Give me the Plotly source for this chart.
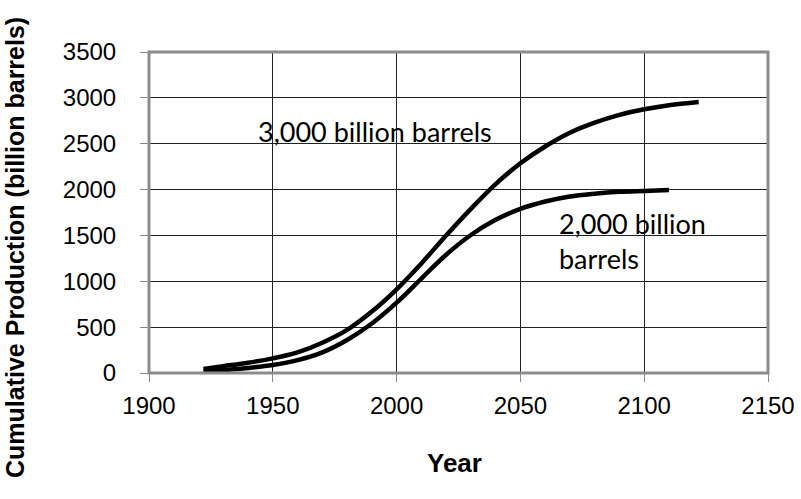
import plotly.graph_objects as go

years_3000 = [1922, 1930, 1940, 1950, 1960, 1970, 1980, 1990, 2000, 2010, 2020, 2030, 2040, 2050, 2060, 2070, 2080, 2090, 2100, 2110, 2122]
prod_3000 = [45, 75, 112, 160, 225, 330, 470, 670, 913, 1195, 1500, 1790, 2060, 2287, 2470, 2620, 2730, 2815, 2876, 2920, 2955]

years_2000 = [1922, 1930, 1940, 1950, 1960, 1970, 1980, 1990, 2000, 2010, 2020, 2030, 2040, 2050, 2060, 2070, 2080, 2090, 2100, 2110]
prod_2000 = [20, 33, 55, 87, 140, 225, 360, 540, 767, 1030, 1290, 1505, 1670, 1790, 1870, 1925, 1955, 1975, 1985, 1995]

x_ticks = [1900, 1950, 2000, 2050, 2100, 2150]
y_ticks = [0, 500, 1000, 1500, 2000, 2500, 3000, 3500]

fig = go.Figure()
fig.add_trace(go.Scatter(x=years_3000, y=prod_3000, mode="lines", line=dict(color="black", width=4.5, shape="spline"), showlegend=False, hoverinfo="skip"))
fig.add_trace(go.Scatter(x=years_2000, y=prod_2000, mode="lines", line=dict(color="black", width=4.5, shape="spline"), showlegend=False, hoverinfo="skip"))

tickfont = dict(family="Liberation Sans, Arial", size=24, color="black")
titlefont = dict(family="Liberation Sans, Arial", size=26, color="black", weight="bold")
ytitlefont = dict(family="Liberation Sans, Arial", size=25, color="black", weight="bold")

fig.update_xaxes(range=[1900, 2150], tickvals=x_ticks, ticktext=[str(v) for v in x_ticks],
                 showgrid=True, gridcolor="#222", gridwidth=1, zeroline=False,
                 ticks="outside", ticklen=8, tickcolor="#888", tickwidth=1,
                 tickfont=tickfont, ticklabelstandoff=3, showline=False, automargin=False)
fig.update_yaxes(range=[0, 3500], tickvals=y_ticks, ticktext=[str(v) for v in y_ticks],
                 showgrid=True, gridcolor="#222", gridwidth=1, zeroline=False,
                 ticks="outside", ticklen=8, tickcolor="#888", tickwidth=1,
                 tickfont=tickfont, ticklabelstandoff=19, showline=False, automargin=False)

fig.add_shape(type="rect", xref="paper", yref="paper", x0=0, y0=0, x1=1, y1=1,
              line=dict(color="#8c8c8c", width=3), layer="above")

annfont = dict(family="Lato, Noto Sans, sans-serif", size=27, color="black")
fig.add_annotation(x=1943.2, y=2628, text="3,000 billion barrels", showarrow=False, xanchor="left", yanchor="middle", font=annfont)
fig.add_annotation(x=2064.8, y=1434, text="2,000 billion<br>barrels", showarrow=False, xanchor="left", yanchor="middle", align="left", font=annfont)

fig.add_annotation(xref="paper", yref="paper", x=0.4943, y=-0.2804, text="Year", showarrow=False,
                   xanchor="center", yanchor="middle", font=titlefont)
fig.add_annotation(xref="paper", yref="paper", x=-0.2165, y=0.3925, text="Cumulative Production (billion barrels)",
                   showarrow=False, textangle=-90, xanchor="center", yanchor="middle", font=ytitlefont)

fig.update_layout(width=801, height=499, margin=dict(l=149, r=33, t=52, b=126),
                  plot_bgcolor="white", paper_bgcolor="white", hovermode=False)

fig.write_html("out.html", config={"displayModeBar": False, "staticPlot": True},
               post_script="document.body.style.margin='0px';document.body.style.overflow='hidden';")
